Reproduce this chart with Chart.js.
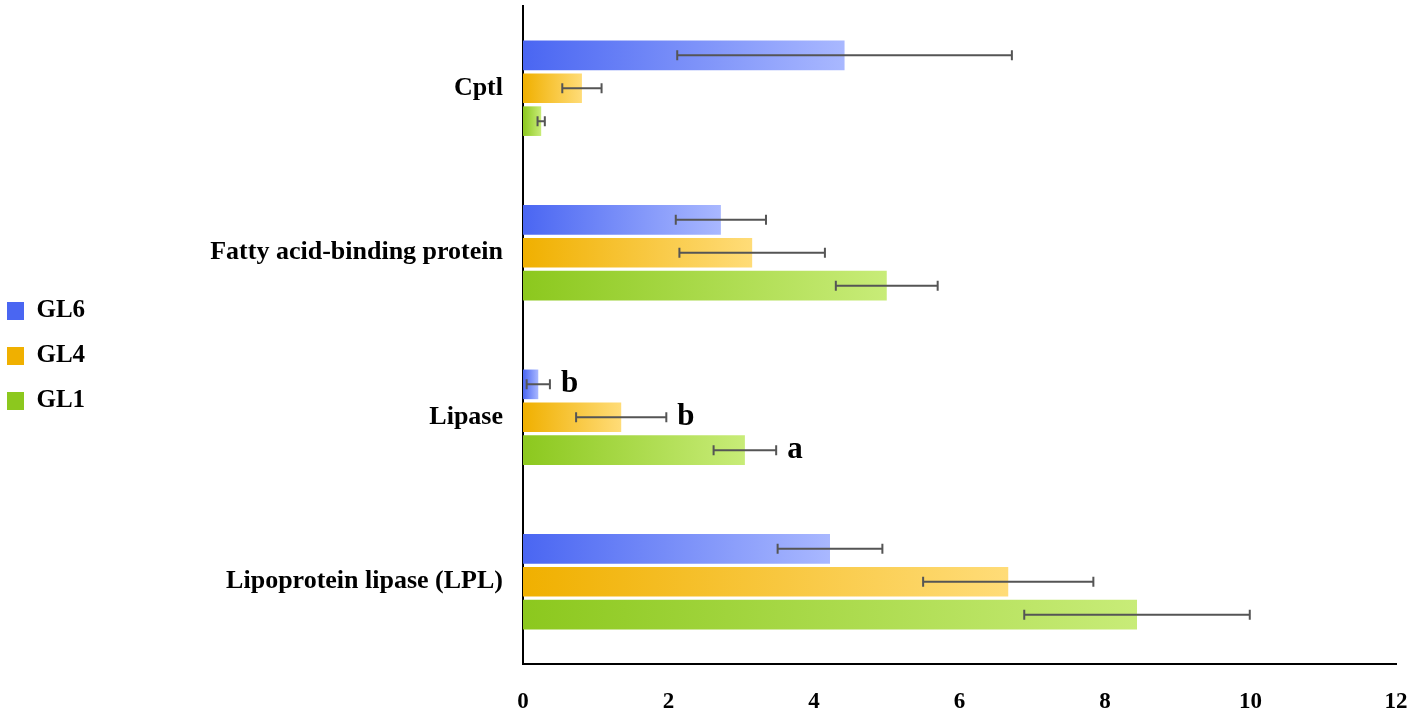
<!DOCTYPE html>
<html>
<head>
<meta charset="utf-8">
<script src="https://cdn.jsdelivr.net/npm/chart.js@4.4.1/dist/chart.umd.min.js"></script>
<style>
  html, body { margin: 0; padding: 0; background: #fff; }
  #wrap { width: 1418px; height: 716px; position: relative; }
</style>
</head>
<body>
<div id="wrap"><canvas id="grafico"></canvas></div>
<script>
// datos
var categorias = ['Cptl', 'Fatty acid-binding protein', 'Lipase', 'Lipoprotein lipase (LPL)'];
var series = ['GL6', 'GL4', 'GL1'];
var gl6 = [4.42, 2.72, 0.21, 4.22];
var gl4 = [0.81, 3.15, 1.35, 6.67];
var gl1 = [0.25, 5.00, 3.05, 8.44];
var err6 = [2.30, 0.62, 0.16, 0.72];
var err4 = [0.27, 1.00, 0.62, 1.17];
var err1 = [0.05, 0.70, 0.43, 1.55];
var letras6 = ['', '', 'b', ''];
var letras4 = ['', '', 'b', ''];
var letras1 = ['', '', 'a', ''];
var ticksX = [0, 2, 4, 6, 8, 10, 12];

var colores = [
    { ini: '#4a66f2', fin: '#a9b8ff', medio: '#7d92f8' },
    { ini: '#f0b000', fin: '#ffdc78', medio: '#f8c43a' },
    { ini: '#8cc81e', fin: '#c8ec78', medio: '#a8d84a' }
];
var errores = [err6, err4, err1];
var letras = [letras6, letras4, letras1];
var fuente = "'Liberation Serif', 'Times New Roman', serif";

function degradado(i) {
    return function(ctx) {
        var chart = ctx.chart;
        if (ctx.type !== 'data' || !chart.chartArea) return colores[i].medio;
        var x = chart.scales.x;
        var x0 = x.getPixelForValue(0);
        var x1 = x.getPixelForValue(ctx.raw);
        if (x1 - x0 < 1) x1 = x0 + 1;
        var g = chart.ctx.createLinearGradient(x0, 0, x1, 0);
        g.addColorStop(0, colores[i].ini);
        g.addColorStop(1, colores[i].fin);
        return g;
    };
}

// barras de error y letras
var barrasError = {
    id: 'barrasError',
    afterDatasetsDraw: function(chart) {
        var c = chart.ctx;
        var x = chart.scales.x;
        c.save();
        chart.data.datasets.forEach(function(ds, i) {
            var meta = chart.getDatasetMeta(i);
            meta.data.forEach(function(bar, j) {
                var v = ds.data[j];
                var e = errores[i][j];
                var xl = x.getPixelForValue(v - e);
                var xr = x.getPixelForValue(v + e);
                var y = bar.y;
                c.strokeStyle = '#555555';
                c.lineWidth = 2;
                c.beginPath();
                c.moveTo(xl, y); c.lineTo(xr, y);
                c.moveTo(xl, y - 5); c.lineTo(xl, y + 5);
                c.moveTo(xr, y - 5); c.lineTo(xr, y + 5);
                c.stroke();
                if (letras[i][j]) {
                    c.fillStyle = '#000';
                    c.font = 'bold 31px ' + fuente;
                    c.textAlign = 'left';
                    c.textBaseline = 'middle';
                    c.fillText(letras[i][j], xr + 11, y);
                }
            });
        });
        c.restore();
    }
};

// sube un poco la leyenda
var subirLeyenda = {
    id: 'subirLeyenda',
    afterLayout: function(chart) {
        if (chart.legend) {
            chart.legend.top -= 5;
            chart.legend.bottom -= 5;
        }
    }
};

var ctx = document.getElementById('grafico').getContext('2d');
var chart = new Chart(ctx, {
    type: 'bar',
    data: {
        labels: categorias,
        datasets: [
            { label: series[0], data: gl6, backgroundColor: degradado(0) },
            { label: series[1], data: gl4, backgroundColor: degradado(1) },
            { label: series[2], data: gl1, backgroundColor: degradado(2) }
        ]
    },
    options: {
        indexAxis: 'y',
        responsive: true,
        maintainAspectRatio: false,
        animation: false,
        categoryPercentage: 0.6,
        barPercentage: 0.9,
        layout: { padding: { top: 6, right: 0, bottom: 0, left: -13 } },
        plugins: {
            tooltip: { enabled: false },
            legend: {
                position: 'left',
                labels: {
                    boxWidth: 17,
                    boxHeight: 18,
                    padding: 20,
                    color: '#000',
                    font: { family: fuente, size: 25, weight: 'bold' }
                }
            }
        },
        scales: {
            x: {
                min: 0,
                max: 12,
                afterBuildTicks: function(scale) {
                    scale.ticks = ticksX.map(function(v) { return { value: v }; });
                },
                afterFit: function(scale) {
                    scale.height = 52;
                    scale.paddingRight = 22;
                },
                grid: { display: false, drawTicks: false },
                border: { display: true, color: '#000', width: 2 },
                ticks: {
                    padding: 24,
                    color: '#000',
                    font: { family: fuente, size: 23, weight: 'bold' }
                }
            },
            y: {
                grid: { display: false, drawTicks: false },
                border: { display: true, color: '#000', width: 2 },
                afterFit: function(scale) {
                    var lw = scale.chart.legend && scale.chart.legend.width ? scale.chart.legend.width : 108;
                    scale.width = 536 - lw;
                    scale.paddingTop = 0;
                    scale.paddingBottom = 0;
                },
                ticks: {
                    padding: 20,
                    color: '#000',
                    font: { family: fuente, size: 26, weight: 'bold' }
                }
            }
        }
    },
    plugins: [barrasError, subirLeyenda]
});
</script>
</body>
</html>
